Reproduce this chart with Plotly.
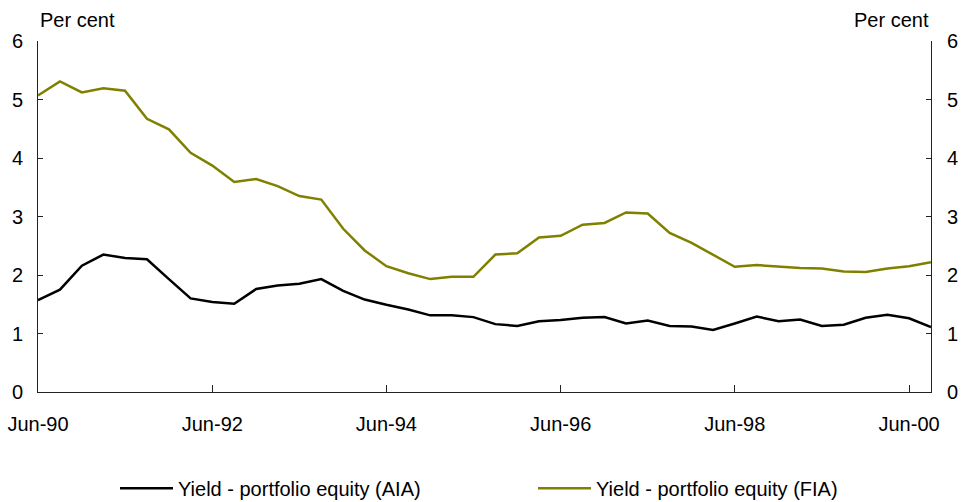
import pandas as pd
import plotly.graph_objects as go

# Quarterly observations, Jun-90 to Sep-00
quarters = pd.date_range("1990-06-30", "2000-09-30", freq="QE").strftime("%Y-%m-%d").tolist()

aia_yield = [1.57, 1.75, 2.16, 2.35, 2.29, 2.27, 1.93, 1.60, 1.54, 1.51,
             1.76, 1.82, 1.85, 1.93, 1.73, 1.58, 1.49, 1.41, 1.31, 1.31,
             1.28, 1.16, 1.13, 1.21, 1.23, 1.27, 1.28, 1.17, 1.22, 1.13,
             1.12, 1.06, 1.17, 1.29, 1.21, 1.24, 1.13, 1.15, 1.27, 1.32,
             1.26, 1.11]

fia_yield = [5.07, 5.31, 5.12, 5.19, 5.15, 4.67, 4.49, 4.09, 3.87, 3.59,
             3.64, 3.52, 3.35, 3.29, 2.79, 2.42, 2.15, 2.03, 1.93, 1.97,
             1.97, 2.35, 2.37, 2.64, 2.67, 2.86, 2.89, 3.07, 3.05, 2.72,
             2.55, 2.34, 2.14, 2.17, 2.14, 2.12, 2.11, 2.06, 2.05, 2.11,
             2.15, 2.22]

series_names = ["Yield - portfolio equity (AIA)", "Yield - portfolio equity (FIA)"]
series_colors = ["#000000", "#808000"]
series_legends = ["legend", "legend2"]

x_tick_vals = ["1990-06-30", "1992-06-30", "1994-06-30", "1996-06-30", "1998-06-30", "2000-06-30"]
x_tick_text = ["Jun-90", "Jun-92", "Jun-94", "Jun-96", "Jun-98", "Jun-00"]
y_ticks = [0, 1, 2, 3, 4, 5, 6]

FONT = "Liberation Sans, Arial, sans-serif"
FS = 20
AXIS_COLOR = "#222222"

fig = go.Figure()
for name, vals, col, lg in zip(series_names, [aia_yield, fia_yield], series_colors, series_legends):
    fig.add_trace(go.Scatter(x=quarters, y=vals, mode="lines", name=name, legend=lg,
                             line=dict(color=col, width=2.5)))

legend_common = dict(orientation="h", xanchor="left", y=-0.274, yanchor="middle",
                     font=dict(size=FS), bgcolor="rgba(0,0,0,0)", itemwidth=53)

fig.update_layout(
    width=961, height=502,
    margin=dict(l=38, r=30, t=41, b=110, autoexpand=False),
    paper_bgcolor="white", plot_bgcolor="white",
    font=dict(family=FONT, size=FS, color="#000000"),
    showlegend=True,
    legend=dict(x=0.0862, **legend_common),
    legend2=dict(x=0.5543, **legend_common),
    xaxis=dict(range=["1990-06-30", "2000-09-30"], tickvals=x_tick_vals, ticktext=x_tick_text,
               showgrid=False, zeroline=False, showline=True, linecolor=AXIS_COLOR, linewidth=1,
               ticks="inside", ticklen=7, tickcolor=AXIS_COLOR, ticklabelstandoff=14,
               ticklabeloverflow="allow", automargin=False),
    yaxis=dict(range=[0, 6], tickvals=y_ticks, showgrid=False, zeroline=False,
               showline=True, linecolor=AXIS_COLOR, linewidth=1,
               ticks="inside", ticklen=5, tickcolor=AXIS_COLOR, ticklabelstandoff=10,
               ticklabeloverflow="allow", automargin=False),
    yaxis2=dict(range=[0, 6], tickvals=y_ticks, overlaying="y", side="right",
                showgrid=False, zeroline=False, showline=True, linecolor=AXIS_COLOR, linewidth=1,
                ticks="inside", ticklen=5, tickcolor=AXIS_COLOR, ticklabelstandoff=11,
                ticklabeloverflow="allow", automargin=False),
    annotations=[
        dict(text="Per cent", xref="paper", yref="paper", x=0, y=1, xanchor="left", yanchor="bottom",
             yshift=8, showarrow=False, font=dict(size=FS)),
        dict(text="Per cent", xref="paper", yref="paper", x=1, y=1, xanchor="right", yanchor="bottom",
             yshift=8, showarrow=False, font=dict(size=FS)),
    ],
)

# invisible trace to activate the right axis
fig.add_trace(go.Scatter(x=[quarters[0]], y=[0], yaxis="y2", mode="lines",
                         showlegend=False, hoverinfo="skip", line=dict(width=0)))

fig.write_html("out.html", config={"displayModeBar": False},
               post_script="document.body.style.margin='0';document.body.style.overflow='hidden';")
